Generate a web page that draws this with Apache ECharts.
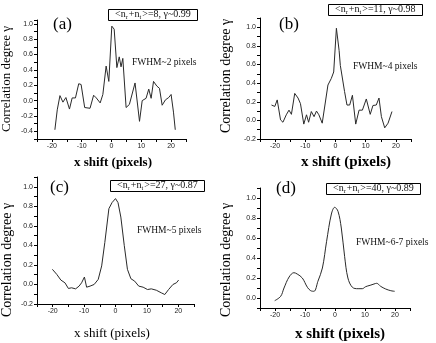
<!DOCTYPE html>
<html>
<head>
<meta charset="utf-8">
<script src="https://cdn.jsdelivr.net/npm/echarts@6/dist/echarts.min.js"></script>
<style>
  html, body { margin: 0; padding: 0; background: #fff; }
  #chart { width: 436px; height: 343px; }
</style>
</head>
<body>
<div id="chart"></div>
<script>
// panel (a) <n_r+n_t>=8
const xA = [-19, -18.2, -17.3, -16.3, -15.3, -14.1, -13.2, -12.1, -11, -10.2, -9, -7.2, -6, -5.1, -3.8, -2.9, -1.8, -0.9, 0.1, 0.9, 1.8, 2.6, 3.2, 3.8, 4.9, 6, 7.9, 9.4, 10.3, 11.6, 12.5, 13.3, 14.1, 15.2, 16.1, 17, 18.1, 19.2, 20, 20.8, 21.4]
const yA = [-0.38, -0.12, 0.065, -0.02, 0.04, -0.11, 0.035, 0.035, 0.22, 0.21, -0.09, -0.10, 0.07, 0.035, -0.03, 0.08, 0.45, 0.25, 0.97, 0.93, 0.43, 0.57, 0.44, 0.55, -0.09, -0.05, 0.23, -0.27, 0.0, 0.03, 0.15, 0.03, 0.25, 0.19, 0.16, -0.06, 0.01, 0.04, 0.08, -0.15, -0.38]

// panel (b) <n_r+n_t>=11
const xB = [-21.2, -20.1, -19.3, -18.2, -17.4, -16.3, -15.4, -14.6, -13.5, -12.4, -11.6, -10.5, -9.6, -8.9, -8, -7.1, -6.3, -5.5, -4.4, -2.5, -1.4, -0.6, 0.3, 1.2, 1.6, 3, 3.8, 4.7, 5.6, 6.7, 7.8, 8.9, 10.2, 11.5, 12.4, 13.5, 14.4, 15.2, 16.3, 17.4, 18.7]
const yB = [0.165, 0.15, 0.22, 0.005, -0.02, 0.06, 0.11, 0.065, 0.29, 0.24, 0.18, -0.04, 0.06, -0.02, 0.095, 0.04, 0.10, 0.06, -0.03, 0.38, 0.45, 0.52, 0.99, 0.75, 0.59, 0.31, 0.165, 0.165, 0.27, -0.04, 0.11, 0.11, 0.23, 0.065, 0.16, 0.165, 0.24, 0.04, -0.08, -0.03, 0.095]

// panel (c) <n_r+n_t>=27
const xC = [-20.1, -18.7, -17.4, -16.1, -15, -14, -12.7, -11.6, -10.8, -9.9, -9.2, -8.1, -6.8, -5.5, -4.4, -3.4, -2.1, -1.1, 0, 0.8, 1.7, 2.8, 3.8, 4.9, 6.1, 7.4, 8.8, 10.2, 11.4, 13, 14.6, 15.7, 16.9, 18.3, 19.4, 20.1]
const yC = [0.155, 0.103, 0.045, 0.017, -0.041, -0.034, -0.045, -0.017, 0.017, 0.076, -0.028, -0.017, 0.0, 0.052, 0.19, 0.43, 0.776, 0.838, 0.879, 0.838, 0.69, 0.397, 0.155, 0.059, 0.034, -0.017, -0.028, -0.052, -0.045, -0.059, -0.086, -0.103, -0.052, 0.0, 0.017, 0.045]

// panel (d) <n_r+n_t>=40
const xD = [-20.1, -18.1, -17, -15.3, -13.7, -12.6, -10.9, -9.2, -8.1, -7, -5.7, -4.2, -2.8, -1.2, -0.1, 1, 2.1, 3.2, 4.3, 5.8, 7.7, 9.1, 10.2, 11.7, 13, 13.9, 15.2, 16.9, 18.6, 19.9]
const yD = [-0.027, 0.017, 0.1, 0.21, 0.253, 0.24, 0.2, 0.107, 0.073, 0.067, 0.167, 0.3, 0.567, 0.84, 0.907, 0.867, 0.7, 0.417, 0.2, 0.107, 0.093, 0.093, 0.113, 0.127, 0.14, 0.147, 0.117, 0.09, 0.073, 0.067]

const panelNames = ['(a)', '(b)', '(c)', '(d)']
const ensembles = ['8', '11', '27', '40']
const gammas = ['0.99', '0.98', '0.87', '0.89']
const fwhmTexts = ['FWHM~2 pixels', 'FWHM~4 pixels', 'FWHM~5 pixels', 'FWHM~6-7 pixels']
const yRanges = [[-0.5, 1.05], [-0.2, 1.1], [-0.2, 1.1], [-0.1, 1.1]]

const serif = '"Liberation Serif", "DejaVu Serif", serif'
const sans = '"Liberation Sans", Arial, sans-serif'

const grids = [
  { left: 37, top: 20, width: 149, height: 119 },
  { left: 260, top: 18, width: 151, height: 121 },
  { left: 37, top: 177, width: 157, height: 127 },
  { left: 260, top: 188, width: 150, height: 120 }
]

const pairs = (xs, ys) => xs.map((x, i) => [x, ys[i]])
const seriesData = [pairs(xA, yA), pairs(xB, yB), pairs(xC, yC), pairs(xD, yD)]

const xAxes = grids.map((g, i) => ({
  type: 'value', gridIndex: i, min: -25, max: 25, interval: 5,
  axisLine: { onZero: false, lineStyle: { color: '#000', width: 1 } },
  axisTick: { show: true, length: 3, lineStyle: { color: '#000' } },
  splitLine: { show: false },
  axisLabel: {
    margin: 4, fontSize: 7, fontFamily: sans, color: '#222',
    formatter: v => (Math.round(v) % 10 === 0 ? String(Math.round(v)) : ''),
    showMinLabel: true, showMaxLabel: true
  }
}))

const yAxes = grids.map((g, i) => ({
  type: 'value', gridIndex: i, min: yRanges[i][0], max: yRanges[i][1], interval: 0.1,
  axisLine: { show: true, onZero: false, lineStyle: { color: '#000', width: 1 } },
  axisTick: { show: true, length: 3, lineStyle: { color: '#000' } },
  splitLine: { show: false },
  axisLabel: {
    margin: 4, fontSize: 7, fontFamily: sans, color: '#222',
    formatter: v => {
      const k = Math.round(v * 100)
      if (k % 20 !== 0) return ''
      return (k / 100).toFixed(1)
    }
  }
}))

const series = seriesData.map((d, i) => ({
  type: 'line', xAxisIndex: i, yAxisIndex: i, data: d,
  showSymbol: false, smooth: i === 3 ? 0.35 : false,
  lineStyle: { color: '#2a2a2a', width: 1 },
  animation: false
}))

// boxed legend labels
const boxPos = [[108, 8], [328, 3], [110, 179], [326, 182]]
const titles = boxPos.map((p, i) => ({
  left: p[0], top: p[1],
  text: '{t|<n}{s|r}{t|+n}{s|t}{t|>=' + ensembles[i] + ', γ~' + gammas[i] + '}',
  borderColor: '#000', borderWidth: 1, padding: [0, 7, 0, 7],
  textStyle: {
    fontWeight: 'normal',
    rich: {
      t: { fontFamily: serif, fontSize: 10, fontWeight: 'normal', color: '#111', lineHeight: 13, verticalAlign: 'middle' },
      s: { fontFamily: serif, fontSize: 6.5, fontWeight: 'normal', color: '#111', padding: [5, 1, 0, 0], verticalAlign: 'middle' }
    }
  }
}))

const labelPos = [[53, 16], [279, 16], [50, 179], [276, 180]]
const fwhmPos = [[132, 62], [353, 66], [137, 230], [356, 242]]
const yTitlePos = [[7, 79, 13], [226, 76, 14], [7, 260, 14], [226, 260, 14]]
const xTitlePos = [[113, 163, 13, 'bold'], [346, 162, 15, 'bold'], [112, 334, 13, 'normal'], [340, 334, 15, 'bold']]

const graphic = []
labelPos.forEach((p, i) => {
  graphic.push({ type: 'text', x: p[0], y: p[1], style: { text: panelNames[i], font: '17px ' + serif, fill: '#000' } })
})
fwhmPos.forEach((p, i) => {
  graphic.push({ type: 'text', x: p[0], y: p[1], style: { text: fwhmTexts[i], font: '9.5px ' + serif, fill: '#111', verticalAlign: 'middle' } })
})
yTitlePos.forEach(p => {
  graphic.push({
    type: 'text', x: p[0], y: p[1], rotation: Math.PI / 2,
    style: { text: 'Correlation degree γ', font: p[2] + 'px ' + serif, fill: '#000', align: 'center', verticalAlign: 'middle' }
  })
})
xTitlePos.forEach(p => {
  graphic.push({
    type: 'text', x: p[0], y: p[1],
    style: { text: 'x shift (pixels)', font: p[3] + ' ' + p[2] + 'px ' + serif, fill: '#000', align: 'center', verticalAlign: 'middle' }
  })
})

const chart = echarts.init(document.getElementById('chart'))
chart.setOption({
  backgroundColor: '#fff',
  animation: false,
  title: titles,
  grid: grids,
  xAxis: xAxes,
  yAxis: yAxes,
  series: series,
  graphic: graphic
})
</script>
</body>
</html>
